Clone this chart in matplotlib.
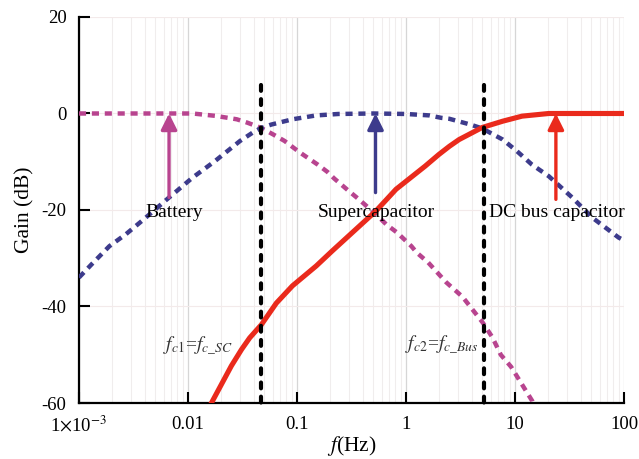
import matplotlib
matplotlib.use("Agg")
import matplotlib.pyplot as plt
import numpy as np

# ---- data ----
freq_battery = [0.001, 0.005, 0.011, 0.018, 0.028, 0.035, 0.047, 0.06, 0.077, 0.105,
                0.155, 0.19, 0.22, 0.30, 0.37, 0.53, 0.66, 0.83, 1.12, 1.25, 1.6,
                2.34, 3.3, 5.04, 6.2, 7.4, 9.2, 14.4, 15.0]
gain_battery = [0, 0, 0, -0.5, -1.2, -1.9, -3.0, -4.3, -5.7, -8.0,
                -10.6, -12.1, -13.5, -16.1, -17.8, -20.9, -23.0, -24.7, -27.5, -28.8, -30.9,
                -35.0, -38.0, -43.3, -46.4, -50.0, -52.5, -59.6, -61.0]

freq_sc = [0.001, 0.0013, 0.0019, 0.0027, 0.0039, 0.0064, 0.011, 0.0176, 0.030, 0.039,
           0.047, 0.058, 0.091, 0.15, 0.24, 0.5, 1.0, 1.64, 2.1, 2.5, 3.9, 5.0, 7.7,
           10.4, 14.3, 20.4, 33.4, 50.6, 89.0, 100.0]
gain_sc = [-34.0, -31.3, -27.5, -25.0, -22.0, -17.8, -13.3, -9.9, -5.7, -4.0,
           -3.0, -2.3, -1.2, -0.4, -0.1, 0.0, -0.1, -0.4, -0.9, -1.1, -2.3, -3.1, -5.4,
           -7.8, -10.6, -13.0, -17.4, -21.5, -25.7, -26.3]

freq_bus = [0.0164, 0.025, 0.031, 0.0368, 0.047, 0.0646, 0.091, 0.15, 0.21, 0.53, 0.81,
            1.5, 2.0, 2.5, 3.07, 5.0, 7.7, 11.6, 20.4, 100.0]
gain_bus = [-60.0, -52.3, -48.9, -46.5, -43.8, -39.3, -35.7, -31.6, -28.5, -20.2, -15.7,
            -10.9, -8.5, -6.8, -5.4, -2.9, -1.6, -0.55, 0.0, 0.0]

cutoff_freqs = [0.0465, 5.2]
arrow_freqs = [0.0067, 0.525, 23.7]
arrow_starts = [-17.4, -16.4, -17.8]
labels = ["Battery", "Supercapacitor", "DC bus capacitor"]
label_freqs = [0.0074, 0.53, 24.1]
xticks = [0.001, 0.01, 0.1, 1, 10, 100]
xticklabels = [r"1$\times$10$^{-3}$", "0.01", "0.1", "1", "10", "100"]
yticks = [20, 0, -20, -40, -60]

# ---- style ----
plt.rcParams['font.family'] = ['Liberation Serif', 'DejaVu Serif']
plt.rcParams['mathtext.fontset'] = 'stix'
plt.rcParams['axes.unicode_minus'] = False

c_bat = '#b8448f'
c_sc = '#3d3b8c'
c_bus = '#ea2a1c'

fig = plt.figure(figsize=(6.39, 4.59), dpi=100)
ax = fig.add_axes([0.1236, 0.122, 0.853, 0.841])
ax.set_xscale('log')
ax.set_xlim(0.001, 100)
ax.set_ylim(-60, 20)

# grid
ax.grid(True, which='major', axis='x', color='#d6d6d6', lw=0.9, zorder=0)
ax.grid(True, which='minor', axis='x', color='#f0eded', lw=0.8, zorder=0)
ax.grid(True, which='major', axis='y', color='#f3eaea', lw=0.8, zorder=0)

dot = (0, (1.6, 1.3))
ax.plot(freq_battery, gain_battery, color=c_bat, lw=3.2, linestyle=dot,
        dash_capstyle='butt', zorder=3)
ax.plot(freq_sc, gain_sc, color=c_sc, lw=3.2, linestyle=dot,
        dash_capstyle='butt', zorder=3)
ax.plot(freq_bus, gain_bus, color=c_bus, lw=3.7, zorder=4)

for fc in cutoff_freqs:
    ax.plot([fc, fc], [6, -60], color='black', lw=3.0, linestyle=(0, (1.4, 2.0)),
            dash_capstyle='round', zorder=5, clip_on=False)

for f, y0, c in zip(arrow_freqs, arrow_starts, [c_bat, c_sc, c_bus]):
    ax.annotate('', xy=(f, 0), xytext=(f, y0),
                arrowprops=dict(arrowstyle='-|>', color=c, lw=2.4,
                                mutation_scale=24, shrinkA=0, shrinkB=0),
                zorder=6)

for f, t in zip(label_freqs, labels):
    ax.text(f, -20.6, t, fontsize=14, ha='center', va='center', zorder=7)

ax.text(0.0123, -48.3, r'$f_{c1}$=$f_{c\_SC}$', fontsize=14, ha='center', va='center',
        color='#333333', zorder=7)
ax.text(2.15, -48.0, r'$f_{c2}$=$f_{c\_Bus}$', fontsize=14, ha='center', va='center',
        color='#333333', zorder=7)

ax.set_xticks(xticks)
ax.set_xticklabels(xticklabels)
ax.set_yticks(yticks)
ax.tick_params(axis='both', which='major', direction='in', length=8, width=1.5,
               labelsize=13.5, pad=9)
ax.tick_params(axis='both', which='minor', length=0)

for s in ['top', 'right']:
    ax.spines[s].set_visible(False)
for s in ['left', 'bottom']:
    ax.spines[s].set_linewidth(1.6)

ax.set_ylabel('Gain (dB)', fontsize=15.5, labelpad=5)
ax.set_xlabel(r'$f$(Hz)', fontsize=15.5, labelpad=-1)

fig.savefig('out.png', dpi=100)
